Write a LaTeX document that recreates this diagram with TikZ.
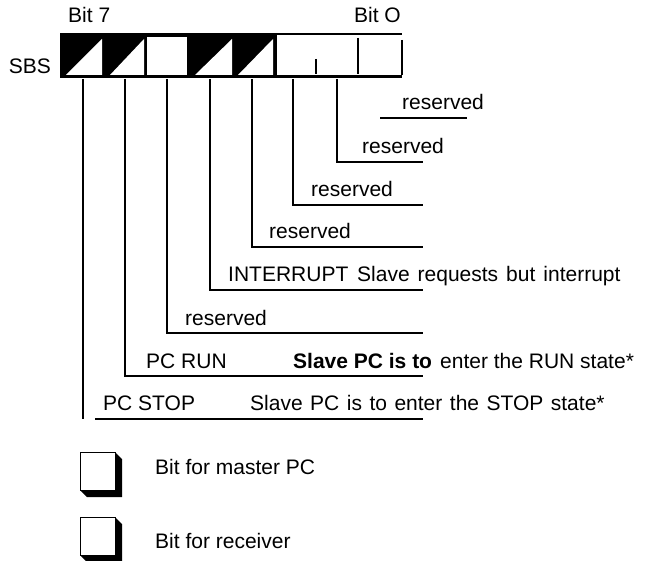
\documentclass[tikz,border=0pt]{standalone}
\usepackage{fontspec}
\setmainfont{Liberation Sans}
\begin{document}
\begin{tikzpicture}[x=1pt,y=-1pt,
  wire/.style={line width=2.8pt},
  thin/.style={line width=1.2pt},
  lbl/.style={anchor=base west,inner sep=0pt,font=\fontsize{21}{24}\selectfont},
  face/.style={draw=black,line width=1pt,fill=white}]
\useasboundingbox (0,0) rectangle (645,561);

% register: black cells with white corner triangles
\fill[black] (60,33) rectangle (277,78);
\foreach \a/\b in {66/102,110/144,195/232,238/273}
  \fill[white] (\a,75) -- (\b,39) -- (\b,75) -- cycle;
\fill[white] (147,37) rectangle (187,75);
\draw[line width=1.6pt] (277,34) -- (402,34);
\draw[line width=3.5pt] (60,76.5) -- (402,76.5);
\draw[thin] (316,59) -- (316,74);
\draw[thin] (358,38) -- (358,74);
\draw[thin] (402,40) -- (402,75);

\node[lbl] (b7) at (68,23) {Bit 7};
\node[lbl,anchor=base east] (b0) at (401,23) {Bit O};
\node[lbl,anchor=base east] (sbs) at (51,74) {SBS};

% taps under each bit
\foreach \n/\x in {t7/83,t6/125,t5/167,t4/210,t3/252,t2/293,t1/337}
  \coordinate (\n) at (\x,79);
\foreach \n/\y in {e1/162,e2/205,e3/247,e4/290,e5/333,e6/376,e7/419}
  \coordinate (\n) at (423,\y);
\coordinate (e0) at (467,118);
\coordinate (s0) at (380,118);
\coordinate (s7) at (95,419);
\coordinate (k7) at (83,419);

\draw[wire] (s0) -- (e0);
\draw[wire] (t1) |- (e1);
\draw[wire] (t2) |- (e2);
\draw[wire] (t3) |- (e3);
\draw[wire] (t4) |- (e4);
\draw[wire] (t5) |- (e5);
\draw[wire] (t6) |- (e6);
\draw[wire] (t7) -- (k7);
\draw[wire] (s7) -- (e7);

\node[lbl] (l0) at (402,110) {reserved};
\node[lbl] (l1) at (362,154) {reserved};
\node[lbl] (l2) at (311,197) {reserved};
\node[lbl] (l3) at (269,239) {reserved};
\node[lbl] (l4) at (228,282) {INTERRUPT};
\node[lbl] (l4b) at (357,282) {\spaceskip=8pt plus 1pt\relax Slave requests but interrupt};
\node[lbl] (l5) at (185,325) {reserved};
\node[lbl] (l6) at (146,368) {PC RUN};
\node[lbl] (l6b) at (293,368) {\textbf{Slave PC is to}};
\node[lbl] (l6c) at (440,368) {enter the RUN state*};
\node[lbl] (l7) at (103,410) {PC STOP};
\node[lbl] (l7b) at (250,410) {\spaceskip=7.5pt plus 1pt\relax Slave PC is to enter the STOP state*};

% key
\foreach \n/\d in {m/0,r/65}{
  \fill[black] (115,452+\d) -- (122,459+\d) -- (122,497+\d) -- (87,497+\d) -- (80,490+\d) -- cycle;
  \draw[face] (80,452+\d) rectangle (115,490+\d);
}
\node[lbl] (km) at (155,474) {Bit for master PC};
\node[lbl] (kr) at (155,548) {Bit for receiver};
\end{tikzpicture}
\end{document}
